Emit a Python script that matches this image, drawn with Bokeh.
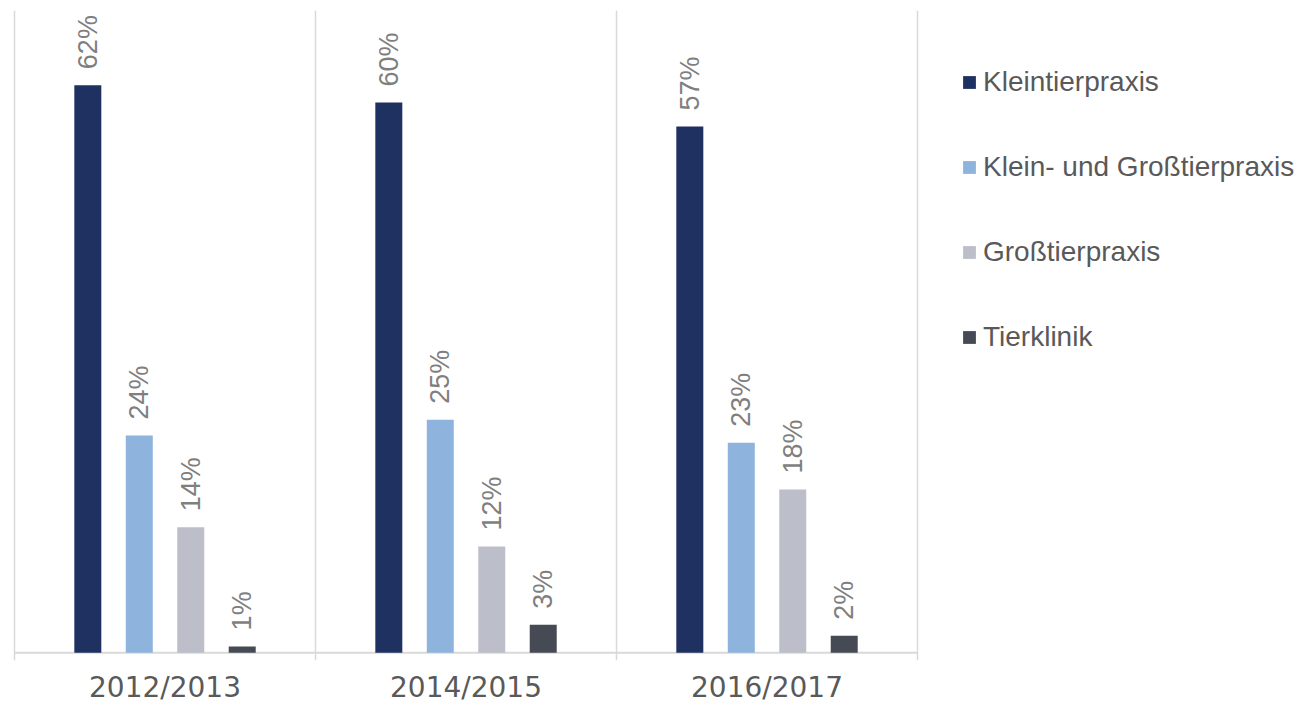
import numpy as np
from bokeh.plotting import figure
from bokeh.models import (Range1d, FixedTicker, ColumnDataSource, Legend, LegendItem, Span)
from bokeh.embed import file_html
from bokeh.resources import INLINE
from bokeh.core.properties import value

years = ["2012/2013", "2014/2015", "2016/2017"]
series = ["Kleintierpraxis", "Klein- und Großtierpraxis", "Großtierpraxis", "Tierklinik"]
kleintier = [61.9, 60.0, 57.4]
klein_gross = [23.7, 25.4, 22.9]
grosstier = [13.7, 11.6, 17.8]
tierklinik = [0.7, 3.05, 1.85]
labels_kleintier = ["62%", "60%", "57%"]
labels_klein_gross = ["24%", "25%", "23%"]
labels_grosstier = ["14%", "12%", "18%"]
labels_tierklinik = ["1%", "3%", "2%"]
colors = ["#1f3160", "#8eb4de", "#bcbfc9", "#454a55"]

values = [kleintier, klein_gross, grosstier, tierklinik]
labels = [labels_kleintier, labels_klein_gross, labels_grosstier, labels_tierklinik]

FONT = "Liberation Sans"
n_years = len(years)
step = 0.171
bar_w = 0.0897

p = figure(frame_width=1305, frame_height=650, output_backend="svg", toolbar_location=None,
           x_range=Range1d(-0.02, -0.02 + 1305 / 301), y_range=Range1d(-0.84, 70.04),
           min_border_left=8, min_border_right=0, min_border_top=10, min_border_bottom=0)
p.outline_line_color = None
p.yaxis.visible = False
p.ygrid.visible = False

p.xgrid.ticker = FixedTicker(ticks=list(range(n_years + 1)))
p.xgrid.grid_line_color = "#d9d9d9"
p.xgrid.grid_line_width = 1.5

centers = [i + 0.5 for i in range(n_years)]
p.xaxis.ticker = FixedTicker(ticks=centers)
p.xaxis.major_label_overrides = {c: y for c, y in zip(centers, years)}
p.xaxis.axis_line_color = None
p.xaxis.major_tick_line_color = None
p.xaxis.minor_tick_line_color = None
p.xaxis.major_tick_out = 0
p.xaxis.major_label_standoff = 10
p.xaxis.major_label_text_font = "DejaVu Sans"
p.xaxis.major_label_text_font_size = "28px"
p.xaxis.major_label_text_color = "#595959"

# baseline
base_src = ColumnDataSource(dict(x0=[0], x1=[n_years], y=[0]))
p.segment(x0="x0", x1="x1", y0="y", y1="y", source=base_src, line_color="#d9d9d9", line_width=2)

items = []
for si, (name, vals, labs, col) in enumerate(zip(series, values, labels, colors)):
    xs = np.arange(n_years) + 0.5 + (si - 1.5) * step
    src = ColumnDataSource(dict(x=xs, top=vals, lab=labs))
    r = p.vbar(x="x", top="top", width=bar_w, source=src, fill_color=col, line_color=None)
    p.text(x="x", y="top", text="lab", source=src, angle=np.pi / 2, text_align="left",
           text_baseline="middle", y_offset=-16, text_font=value(FONT), text_font_size="27px",
           text_color="#7f7f7f")
    items.append(LegendItem(label=name, renderers=[r]))

legend = Legend(items=items, location=(953, 306), orientation="vertical",
                glyph_width=16, glyph_height=16, label_standoff=6, label_height=34,
                spacing=51, padding=0, margin=0,
                label_text_font=FONT, label_text_font_size="28px", label_text_color="#595959",
                border_line_color=None, background_fill_alpha=0)
p.add_layout(legend)

open("out.html", "w").write(file_html(p, INLINE))
